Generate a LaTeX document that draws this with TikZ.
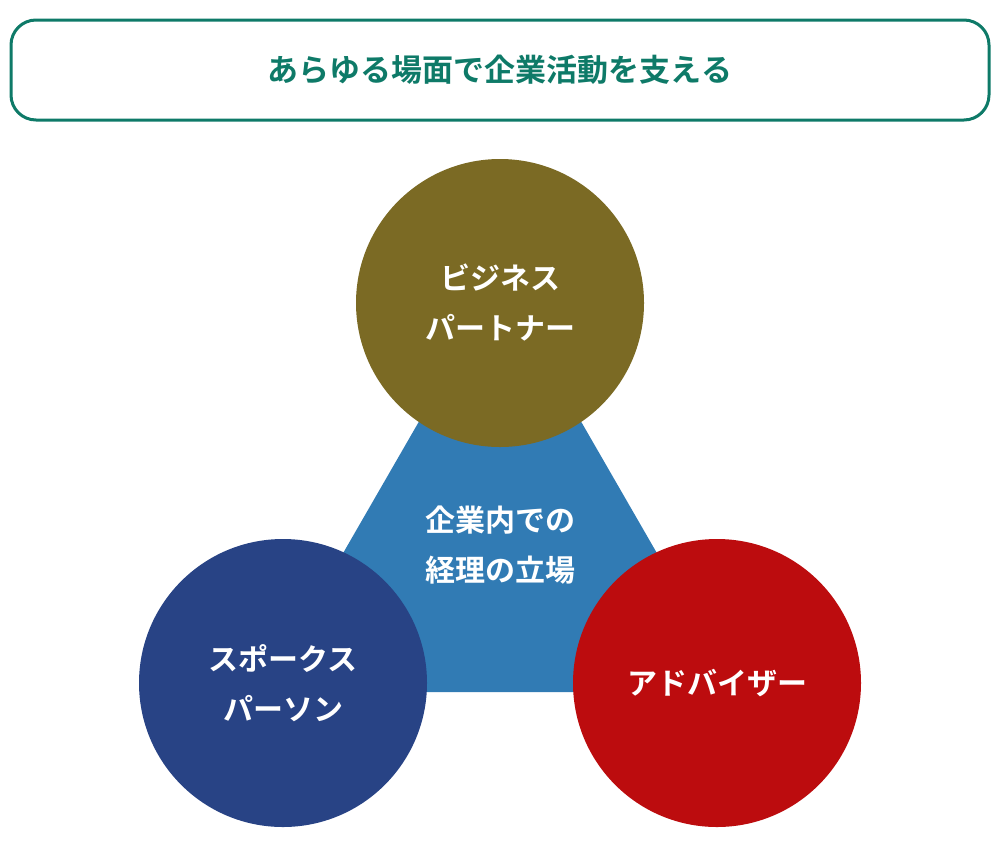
\documentclass[tikz,border=0pt]{standalone}
\usepackage{fontspec}
\newfontfamily\cjk{Noto Sans CJK JP Bold}
\definecolor{grn}{HTML}{0E7A68}
\definecolor{olv}{HTML}{7B6A24}
\definecolor{nvy}{HTML}{284385}
\definecolor{rd}{HTML}{BC0C0E}
\definecolor{bl}{HTML}{317BB4}
\tikzset{circ/.style={circle,minimum size=288pt,inner sep=0pt,text=white,align=center,font=\cjk\fontsize{30}{50}\selectfont}}
\begin{document}
\begin{tikzpicture}[x=1pt,y=-1pt]
\useasboundingbox (0,0) rectangle (1000,860);
\node[draw=grn,line width=3pt,rounded corners=25pt,minimum width=978pt,minimum height=100pt,text=grn,font=\cjk\fontsize{31}{36}\selectfont] (title) at (500,70) {あらゆる場面で企業活動を支える};
\fill[bl] (500,281) -- (263,692) -- (737,692) -- cycle;
\node[circ,fill=olv] (bp) at (500,303) {ビジネス\\パートナー};
\node[circ,fill=nvy] (sp) at (283,683) {スポークス\\パーソン};
\node[circ,fill=rd] (ad) at (717,683) {アドバイザー};
\node[text=white,align=center,font=\cjk\fontsize{30}{50}\selectfont] (c) at (500,545) {企業内での\\経理の立場};
\end{tikzpicture}
\end{document}
